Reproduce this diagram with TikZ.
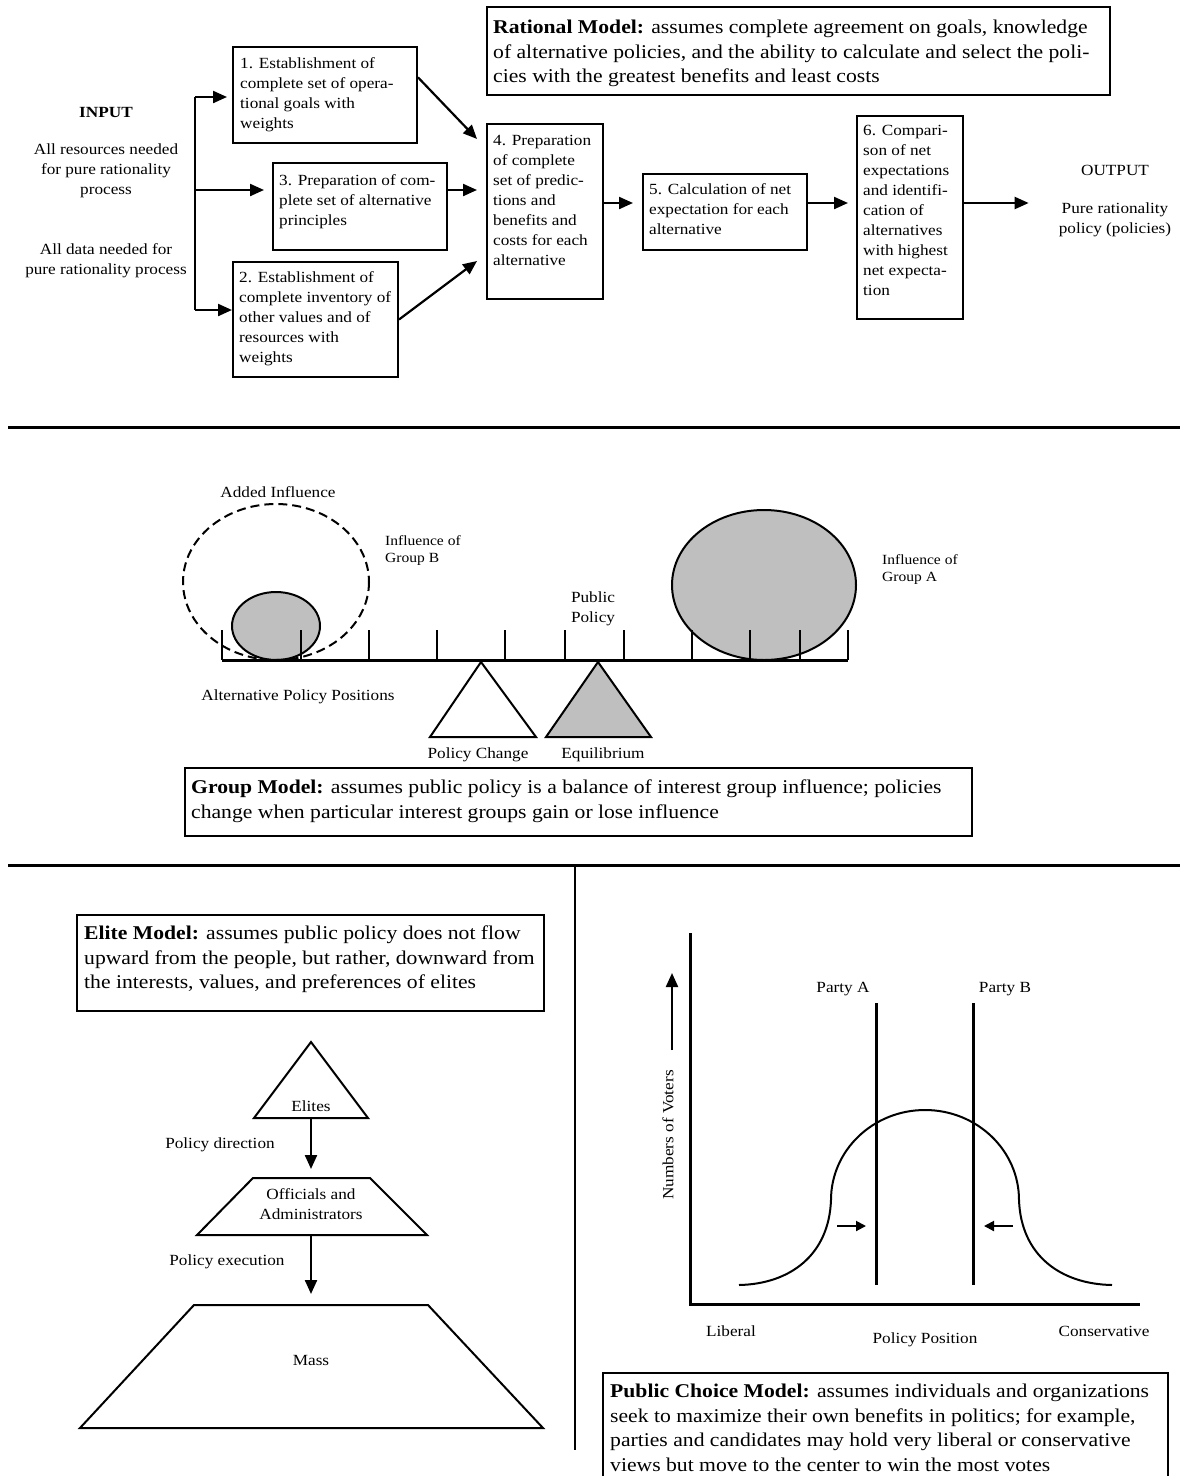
\documentclass[tikz,border=0pt]{standalone}
\usepackage{fontspec}
\setmainfont{Liberation Serif}[FakeStretch=1.11]
\usetikzlibrary{arrows.meta,calc}

\begin{document}
\begin{tikzpicture}[x=1pt,y=-1pt,
  box/.style={draw,line width=2pt,inner sep=0pt},
  txt/.style={font=\fontsize{15.5}{20}\selectfont,align=left,inner sep=0pt},
  ctxt/.style={font=\fontsize{15.5}{20}\selectfont,align=center,inner sep=0pt},
  big/.style={font=\fontsize{19.5}{24.5}\selectfont,align=left,inner sep=0pt},
  small/.style={font=\fontsize{14}{17.5}\selectfont,align=left,inner sep=0pt},
  arr/.style={line width=2.2pt,-{Triangle[length=14pt,width=12pt]}},
  sarr/.style={line width=2pt,-{Triangle[length=10pt,width=10pt]}},
  sepline/.style={line width=3pt}]
\useasboundingbox (0,0) rectangle (1180,1476);

% rational model
\node[box,minimum width=623,minimum height=88] (rat) at (798.5,51) {};
\node[big,anchor=north west] (ratt) at (493,20) {\textbf{Rational Model:} assumes complete agreement on goals, knowledge\\of alternative policies, and the ability to calculate and select the poli-\\cies with the greatest benefits and least costs};

\node[ctxt] (input) at (106,112) {\textbf{INPUT}};
\node[ctxt] (res) at (106,171) {All resources needed\\for pure rationality\\process};
\node[ctxt] (data) at (106,261) {All data needed for\\pure rationality process};

\node[box,minimum width=184,minimum height=96] (b1) at (325,95) {};
\node[txt,anchor=north west] (b1t) at (240,57.5) {1. Establishment of\\complete set of opera-\\tional goals with\\weights};
\node[box,minimum width=174,minimum height=87] (b3) at (360,206.5) {};
\node[txt,anchor=north west] (b3t) at (279,174.5) {3. Preparation of com-\\plete set of alternative\\principles};
\node[box,minimum width=165,minimum height=115] (b2) at (315.5,319.5) {};
\node[txt,anchor=north west] (b2t) at (239,271.5) {2. Establishment of\\complete inventory of\\other values and of\\resources with\\weights};
\node[box,minimum width=116,minimum height=175] (b4) at (545,211.5) {};
\node[txt,anchor=north west] (b4t) at (493,135.5) {4. Preparation\\of complete\\set of predic-\\tions and\\benefits and\\costs for each\\alternative};
\node[box,minimum width=164,minimum height=76] (b5) at (725,211.5) {};
\node[txt,anchor=north west] (b5t) at (649,183.5) {5. Calculation of net\\expectation for each\\alternative};
\node[box,minimum width=106,minimum height=203] (b6) at (910,217.5) {};
\node[txt,anchor=north west] (b6t) at (863,125.5) {6. Compari-\\son of net\\expectations\\and identifi-\\cation of\\alternatives\\with highest\\net expecta-\\tion};

\node[ctxt] (output) at (1115,170) {OUTPUT};
\node[ctxt] (pure) at (1115,220) {Pure rationality\\policy (policies)};

\coordinate (in1) at (195,97);
\coordinate (in2) at (195,190);
\coordinate (in3) at (195,310);
\coordinate (row) at (0,203);
\draw[line width=2.2pt] (in1) -- (in3);
\draw[arr,shorten >=5pt] (in1) -- (in1 -| b1.west);
\draw[arr,shorten >=8pt] (in2) -- (in2 -| b3.west);
\draw[arr] (in3) -- (in3 -| b2.west);
\draw[arr] ($(b1.north east)!.32!(b1.south east)$) -- ($(b4.north west)+(-9,16)$);
\draw[arr,shorten >=9pt] (b3.east |- in2) -- (b4.west |- in2);
\draw[arr] (b2.east) -- ($(b4.south west)+(-9,-39)$);
\draw[arr,shorten >=9pt] (b4.east |- row) -- (b5.west |- row);
\draw[arr,shorten >=8pt] (b5.east |- row) -- (b6.west |- row);
\draw[arr,shorten >=30pt] (b6.east |- row) -- (pure.west |- row);

\draw[sepline] (8,427) -- (1180,427);

% group model
\draw[line width=2pt,fill=black!25] (764,585) ellipse [x radius=92, y radius=75];
\draw[line width=2pt,fill=black!25] (276,626) ellipse [x radius=44, y radius=34];
\draw[line width=2pt,dash pattern=on 9pt off 5pt] (276,582) ellipse [x radius=93, y radius=78];
\draw[line width=3pt] (222,660) -- (848,660);
\foreach \x in {222,301,369,437,505,565,624,692,750,800,848}
  \draw[line width=2pt] (\x,630) -- (\x,660);
\draw[line width=2pt,fill=white] (481,662) -- (536,737) -- (430,737) -- cycle;
\draw[line width=2pt,fill=black!25] (598,662) -- (651,737) -- (546,737) -- cycle;

\node[ctxt] (added) at (278,492) {Added Influence};
\node[small,anchor=north west] (infb) at (385,535) {Influence of\\Group B};
\node[small,anchor=north west] (infa) at (882,554) {Influence of\\Group A};
\node[ctxt] (pubpol) at (593,609) {Public\\Policy};
\node[ctxt] (altpos) at (298,697) {Alternative Policy Positions};
\node[ctxt] (change) at (478,755) {Policy Change};
\node[ctxt] (equil) at (603,755) {Equilibrium};

\node[box,minimum width=787,minimum height=68] (grp) at (578.5,802) {};
\node[big,anchor=north west] (grpt) at (191,780) {\textbf{Group Model:} assumes public policy is a balance of interest group influence; policies\\change when particular interest groups gain or lose influence};

\draw[sepline] (8,865) -- (1180,865);
\draw[line width=2pt] (575,866) -- (575,1450);

% elite model
\node[box,minimum width=467,minimum height=96] (eli) at (310.5,963) {};
\node[big,anchor=north west] (elit) at (84,926) {\textbf{Elite Model:} assumes public policy does not flow\\upward from the people, but rather, downward from\\the interests, values, and preferences of elites};

\draw[line width=2pt] (311,1042) -- (368,1118) -- (254,1118) -- cycle;
\draw[line width=2pt] (253,1178) -- (370,1178) -- (427,1235) -- (197,1235) -- cycle;
\draw[line width=2pt] (194,1305) -- (428,1305) -- (543,1428) -- (80,1428) -- cycle;
\coordinate (elbase) at (311,1118);
\coordinate (offtop) at (311,1178);
\coordinate (offbase) at (311,1235);
\coordinate (masstop) at (311,1305);
\draw[arr,shorten >=9pt] (elbase) -- (offtop);
\draw[arr,shorten >=11pt] (offbase) -- (masstop);

\node[ctxt] (elites) at (311,1106) {Elites};
\node[ctxt] (direc) at (220,1145) {Policy direction};
\node[ctxt] (offic) at (311,1204) {Officials and\\Administrators};
\node[ctxt] (exec) at (227,1262) {Policy execution};
\node[ctxt] (mass) at (311,1360) {Mass};

% public choice model
\draw[line width=3pt] (690,933) -- (690,1304) -- (1140,1304);
\draw[arr] (672,1050) -- (672,973);
\draw[line width=3pt] (876,1003) -- (876,1285);
\draw[line width=3pt] (973,1003) -- (973,1285);
\draw[line width=2pt] (739,1285) .. controls (790,1284) and (829,1255) .. (831,1200)
  arc [start angle=180, end angle=360, x radius=94, y radius=90]
  .. controls (1021,1255) and (1060,1284) .. (1112,1285);
\draw[sarr] (837,1226) -- (866,1226);
\draw[sarr] (1013,1226) -- (984,1226);

\node[ctxt] (partya) at (843,989) {Party A};
\node[ctxt] (partyb) at (1005,989) {Party B};
\node[ctxt,rotate=90] (voters) at (668,1135) {Numbers of Voters};
\node[ctxt] (liberal) at (731,1331) {Liberal};
\node[ctxt] (polpos) at (925,1340) {Policy Position};
\node[ctxt] (conserv) at (1104,1331) {Conservative};

\node[box,minimum width=565,minimum height=117] (pc) at (885.5,1431.5) {};
\node[big,anchor=north west] (pct) at (610,1384) {\textbf{Public Choice Model:} assumes individuals and organizations\\seek to maximize their own benefits in politics; for example,\\parties and candidates may hold very liberal or conservative\\views but move to the center to win the most votes};
\end{tikzpicture}
\end{document}
